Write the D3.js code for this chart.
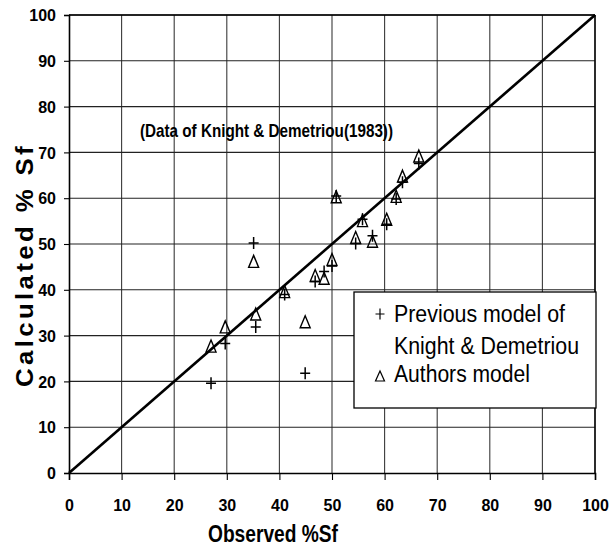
<!DOCTYPE html>
<html>
<head>
<meta charset="utf-8">
<script src="https://cdn.jsdelivr.net/npm/d3@7"></script>
<style>
  html, body { margin: 0; padding: 0; background: #fff; }
  svg { display: block; }
  text { font-family: "Liberation Sans Narrow", "Arial Narrow", "Liberation Sans", Arial, sans-serif; fill: #000; }
</style>
</head>
<body>
<svg id="chart" width="612" height="546"></svg>
<script>
// Observed vs calculated fines percentage (%Sf)
const observed      = [27.0, 29.7, 35.5, 35.1, 41.0, 44.9, 46.8, 48.5, 50.0, 50.8, 54.5, 55.8, 57.7, 60.4, 62.2, 63.4, 66.5];
const previousModel = [19.6, 28.3, 31.9, 50.2, 39.0, 21.8, 41.8, 44.0, 45.2, 60.5, 50.1, 55.4, 51.8, 54.3, 59.8, 63.5, 67.6];
const authorsModel  = [27.6, 31.8, 34.6, 46.1, 39.5, 32.9, 43.0, 42.4, 46.5, 60.2, 51.3, 55.0, 50.5, 55.3, 60.3, 64.7, 69.1];
const tickValues    = [0, 10, 20, 30, 40, 50, 60, 70, 80, 90, 100];
const legendLabels  = ["Previous model of", "Knight & Demetriou", "Authors model"];
const noteText      = "(Data of Knight & Demetriou(1983))";
const xTitle        = "Observed %Sf";
const yTitle        = "Calculated % Sf";

const svg = d3.select("#chart");
const x = d3.scaleLinear().domain([0, 100]).range([69, 595]);
const y = d3.scaleLinear().domain([0, 100]).range([473, 15]);

// grid
const grid = svg.append("g");
grid.selectAll("line.v").data(tickValues.slice(1)).join("line")
  .attr("x1", d => x(d)).attr("x2", d => x(d))
  .attr("y1", y(0)).attr("y2", y(100))
  .attr("stroke", "#3a3a3a").attr("stroke-width", 1.1);
grid.selectAll("line.h").data(tickValues.slice(1)).join("line")
  .attr("x1", x(0)).attr("x2", x(100))
  .attr("y1", d => y(d)).attr("y2", d => y(d))
  .attr("stroke", "#222").attr("stroke-width", 1.1);

// axes
const xAxis = svg.append("g").attr("transform", `translate(0,${y(0)})`)
  .call(d3.axisBottom(x).tickValues(tickValues).tickSize(7).tickPadding(20).tickFormat(d3.format("d")));
const yAxis = svg.append("g").attr("transform", `translate(${x(0)},0)`)
  .call(d3.axisLeft(y).tickValues(tickValues).tickSize(5).tickPadding(8).tickFormat(d3.format("d")));
[xAxis, yAxis].forEach(g => {
  g.select(".domain").attr("stroke", "#000").attr("stroke-width", 1.6);
  g.selectAll(".tick line").attr("stroke", "#000").attr("stroke-width", 1.1);
  g.selectAll(".tick text").attr("font-size", 16).attr("font-weight", "bold")
    .attr("font-family", "'Liberation Sans Narrow', 'Arial Narrow', 'Liberation Sans', sans-serif");
});
yAxis.selectAll(".tick text").attr("dy", "0.36em");

// top/right frame
svg.append("line").attr("x1", x(0)).attr("x2", x(100)).attr("y1", y(100)).attr("y2", y(100))
  .attr("stroke", "#000").attr("stroke-width", 1.4);
svg.append("line").attr("x1", x(100)).attr("x2", x(100)).attr("y1", y(0)).attr("y2", y(100))
  .attr("stroke", "#000").attr("stroke-width", 1.4);

// 1:1 line
svg.append("line")
  .attr("x1", x(0)).attr("y1", y(0)).attr("x2", x(100)).attr("y2", y(100))
  .attr("stroke", "#000").attr("stroke-width", 2.6);

// markers
const plusPath = "M-5,0H5M0,-6V6";
const triPath = "M0,-6.5L5,5.5L-5,5.5Z";
svg.append("g").selectAll("path").data(observed.map((o, i) => [o, previousModel[i]])).join("path")
  .attr("d", plusPath).attr("transform", d => `translate(${x(d[0])},${y(d[1])})`)
  .attr("stroke", "#000").attr("stroke-width", 1.5).attr("fill", "none");
svg.append("g").selectAll("path").data(observed.map((o, i) => [o, authorsModel[i]])).join("path")
  .attr("d", triPath).attr("transform", d => `translate(${x(d[0])},${y(d[1])})`)
  .attr("stroke", "#000").attr("stroke-width", 1.4).attr("fill", "none");

// note
svg.append("text").attr("x", 140).attr("y", 137)
  .attr("font-size", 19).attr("font-weight", "bold")
  .attr("textLength", 253).attr("lengthAdjust", "spacingAndGlyphs")
  .text(noteText);

// legend
const lg = svg.append("g");
lg.append("rect").attr("x", 354).attr("y", 292).attr("width", 242).attr("height", 116)
  .attr("fill", "#fff").attr("stroke", "#000").attr("stroke-width", 1.3);
lg.append("path").attr("d", "M-4.5,0H4.5M0,-5.5V5.5").attr("transform", "translate(380,314)")
  .attr("stroke", "#000").attr("stroke-width", 1.2).attr("fill", "none");
lg.append("path").attr("d", "M0,-5L4.5,5L-4.5,5Z").attr("transform", "translate(380,376)")
  .attr("stroke", "#000").attr("stroke-width", 1.2).attr("fill", "none");
const lgY = [322, 354, 382], lgW = [171, 185, 136];
lg.selectAll("text").data(legendLabels).join("text")
  .attr("x", 394).attr("y", (d, i) => lgY[i])
  .attr("font-size", 23)
  .attr("textLength", (d, i) => lgW[i]).attr("lengthAdjust", "spacingAndGlyphs")
  .text(d => d);

// axis titles
svg.append("text").attr("x", 273).attr("y", 542).attr("text-anchor", "middle")
  .attr("font-size", 23).attr("font-weight", "bold")
  .attr("textLength", 130).attr("lengthAdjust", "spacingAndGlyphs")
  .text(xTitle);
svg.append("text").attr("transform", "translate(33,265) rotate(-90)").attr("text-anchor", "middle")
  .attr("font-size", 23).attr("font-weight", "bold").attr("letter-spacing", 3)
  .attr("textLength", 244).attr("lengthAdjust", "spacingAndGlyphs")
  .text(yTitle);
</script>
</body>
</html>
